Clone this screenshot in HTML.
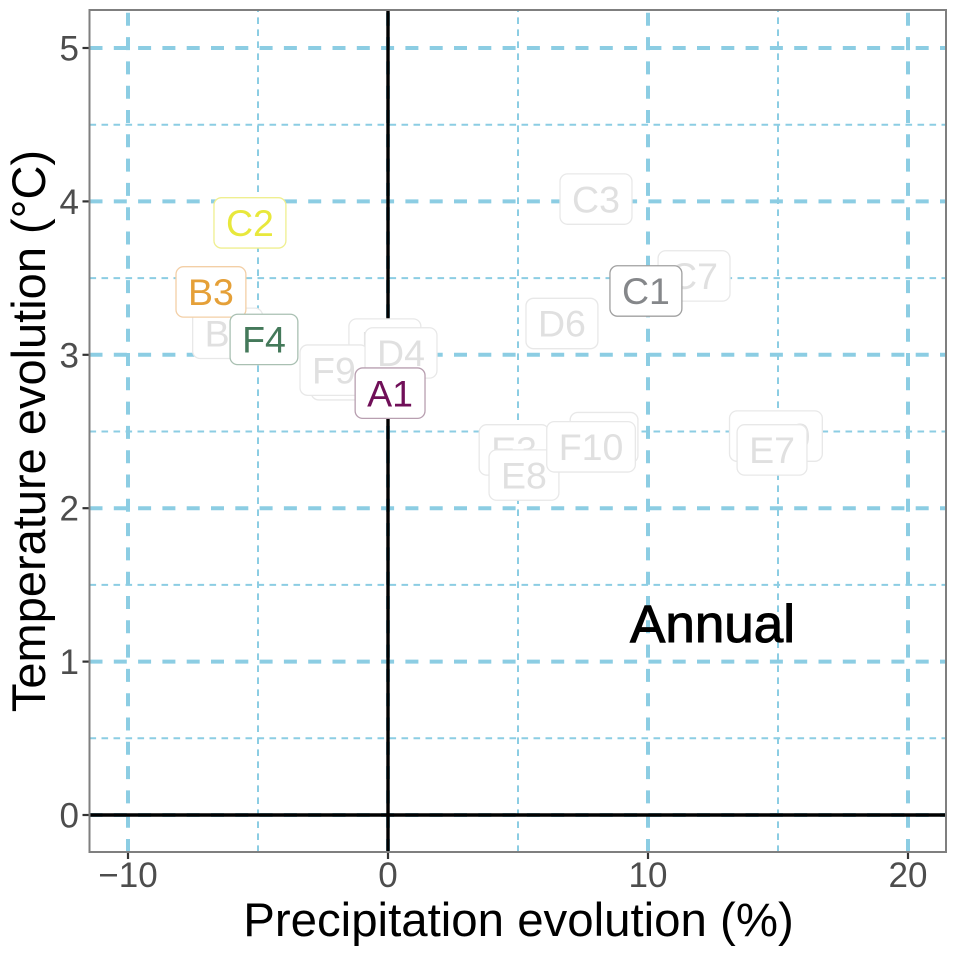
<!DOCTYPE html>
<html lang="en">
<head>
<meta charset="utf-8">
<title>Annual temperature and precipitation evolution</title>
<style>
html,body{margin:0;padding:0;background:#fff;}
svg{display:block;font-family:"Liberation Sans",Arial,sans-serif;}
</style>
</head>
<body>
<svg id="chart" xmlns="http://www.w3.org/2000/svg" width="956" height="953" viewBox="0 0 956 953"></svg>
<script>
const xMajorTicks = [-10, 0, 10, 20];
const xMinorTicks = [-5, 5, 15];
const yMajorTicks = [0, 1, 2, 3, 4, 5];
const yMinorTicks = [0.5, 1.5, 2.5, 3.5, 4.5];
const xTickLabels = ['\u221210', '0', '10', '20'];
const yTickLabels = ['0', '1', '2', '3', '4', '5'];
const modelNames = ['C3', 'C7', 'D6', 'B5', 'D3', 'F3', 'F9', 'D4', 'E3', 'E8', 'F1', 'F10', 'D10', 'E7', 'C1', 'C2', 'B3', 'F4', 'A1'];
const precipValues = [8.0, 11.77, 6.69, -6.17, -0.12, -1.65, -2.08, 0.5, 4.85, 5.23, 8.31, 7.81, 14.92, 14.77, 9.92, -5.31, -6.81, -4.77, 0.08];
const tempValues = [4.015, 3.514, 3.204, 3.14, 3.07, 2.87, 2.9, 3.012, 2.38, 2.216, 2.46, 2.40, 2.47, 2.38, 3.416, 3.86, 3.41, 3.10, 2.75];
const highlightedNames = ['C1', 'C2', 'B3', 'F4', 'A1'];

const panel = { left: 89.5, right: 946, top: 10, bottom: 852 };
const xScale = v => 388 + v * 26;
const yScale = v => 815 - v * 153.4;
const svg = document.getElementById('chart');
const NS = 'http://www.w3.org/2000/svg';

function make(tag, attrs, parent) {
  const el = document.createElementNS(NS, tag);
  Object.keys(attrs).forEach(k => el.setAttribute(k, attrs[k]));
  (parent || svg).appendChild(el);
  return el;
}

function labelColors(name) {
  if (name === 'C1') return { text: '#85878a', border: '#a0a0a0' };
  if (name === 'C2') return { text: '#e8e83c', border: '#efef90' };
  if (name === 'B3') return { text: '#e5a038', border: '#f3cfa6' };
  if (name === 'F4') return { text: '#44795a', border: '#a9c0b2' };
  if (name === 'A1') return { text: '#700f58', border: '#b89fb0' };
  return { text: '#e0e0e0', border: '#e8e8e8' };
}

const majorColor = '#8ccde3';

const bg = make('rect', { x: panel.left, y: panel.top, width: panel.right - panel.left, height: panel.bottom - panel.top, fill: '#fff' });



yMinorTicks.forEach(t => {
  const l = make('line', { x1: panel.left, x2: panel.right, y1: yScale(t), y2: yScale(t), stroke: majorColor, 'stroke-width': 2, 'stroke-dasharray': '6.6 5.4' });
  
  
});
xMinorTicks.forEach(t => {
  const l = make('line', { x1: xScale(t), x2: xScale(t), y1: panel.bottom, y2: panel.top, stroke: majorColor, 'stroke-width': 2, 'stroke-dasharray': '6.6 5.4' });
  
  
});
yMajorTicks.forEach(t => {
  const l = make('line', { x1: panel.left, x2: panel.right, y1: yScale(t), y2: yScale(t), stroke: majorColor, 'stroke-width': 4, 'stroke-dasharray': '13 11.3' });
  
  
});
xMajorTicks.forEach(t => {
  const l = make('line', { x1: xScale(t), x2: xScale(t), y1: panel.bottom, y2: panel.top, stroke: majorColor, 'stroke-width': 4, 'stroke-dasharray': '13 11.3' });
  
  
});

const zeroV = make('line', { x1: xScale(0), x2: xScale(0), y1: panel.top, y2: panel.bottom, stroke: '#000', 'stroke-width': 3.4 });


const zeroH = make('line', { x1: panel.left, x2: panel.right, y1: yScale(0), y2: yScale(0), stroke: '#000', 'stroke-width': 3.4 });



modelNames.forEach((name, i) => {
  const cx = xScale(precipValues[i]);
  const cy = yScale(tempValues[i]);
  const c = labelColors(name);
  const g = make('g', {});
  
  
  const box = make('rect', { y: cy - 25.2, height: 50.4, rx: 7.5, ry: 7.5, fill: '#fff', stroke: c.border, 'stroke-width': 1.3 }, g);
  const text = make('text', { x: cx, y: cy + 13.2, 'text-anchor': 'middle', 'font-size': 37.5, fill: c.text }, g);
  text.textContent = name;
  const w = text.getComputedTextLength() + 24;
  box.setAttribute('x', cx - w / 2);
  box.setAttribute('width', w);
});

const annual = make('text', { x: 630, y: 642, 'font-size': 53, fill: '#000', stroke: '#000', 'stroke-width': 1 });


annual.textContent = 'Annual';

const border = make('rect', { x: panel.left, y: panel.top, width: panel.right - panel.left, height: panel.bottom - panel.top, fill: 'none', stroke: '#7f7f7f', 'stroke-width': 2 });



xMajorTicks.forEach((t, i) => {
  const tick = make('line', { x1: xScale(t), x2: xScale(t), y1: panel.bottom + 1, y2: panel.bottom + 7, stroke: '#333', 'stroke-width': 2.2 });
  
  
  const lab = make('text', { x: xScale(t), y: 887, 'text-anchor': 'middle', 'font-size': 35, fill: '#4d4d4d' });
  
  
  lab.textContent = xTickLabels[i];
});
yMajorTicks.forEach((t, i) => {
  const tick = make('line', { x1: panel.left - 7, x2: panel.left - 1, y1: yScale(t), y2: yScale(t), stroke: '#333', 'stroke-width': 2.2 });
  
  
  const lab = make('text', { x: 79, y: yScale(t) + 12.5, 'text-anchor': 'end', 'font-size': 35, fill: '#4d4d4d' });
  
  
  lab.textContent = yTickLabels[i];
});

const xTitle = make('text', { x: 518.5, y: 936, 'text-anchor': 'middle', 'font-size': 47.4, fill: '#000' });


xTitle.textContent = 'Precipitation evolution (%)';
const yTitle = make('text', { x: 0, y: 0, transform: 'translate(45 431) rotate(-90)', 'text-anchor': 'middle', 'font-size': 47, fill: '#000' });


yTitle.textContent = 'Temperature evolution (\u00B0C)';
</script>
</body>
</html>
